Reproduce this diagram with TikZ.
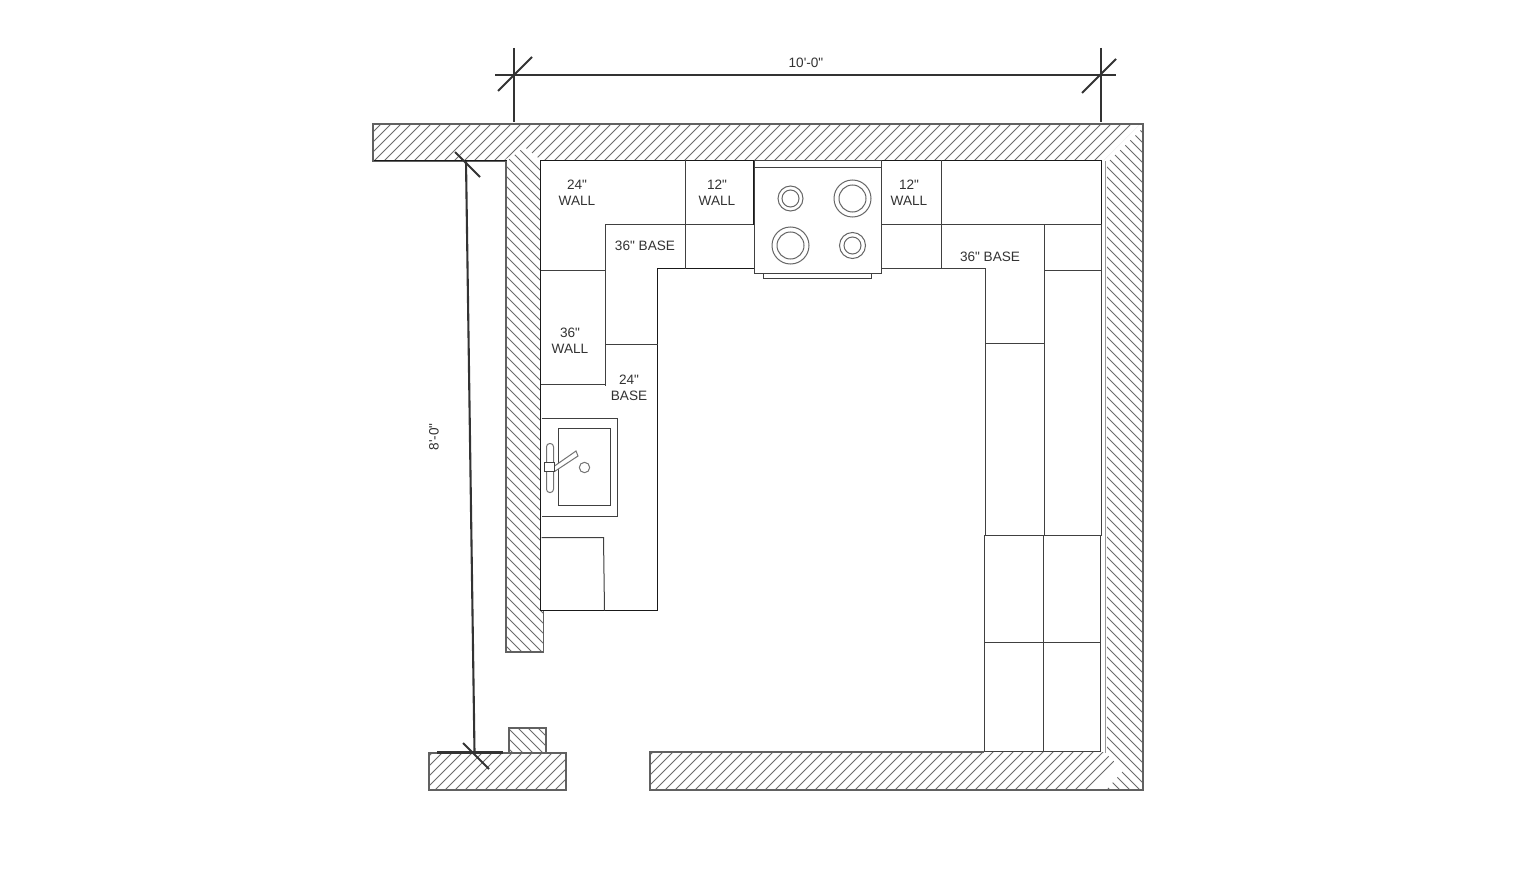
\documentclass[tikz,border=0pt]{standalone}
\usepackage{fontspec}
\newfontfamily\lblfont{Liberation Sans}
\tikzset{
  px/.style={x=0.5pt,y=-0.5pt},
  crisp/.style={xshift=0.25pt,yshift=-0.25pt},
  wall/.style={draw=black!62,line width=0.7pt},
  hatchline/.style={draw=black!58,line width=0.38pt},
  cab/.style={draw=black!75,line width=0.5pt},
  cabdark/.style={draw=black!90,line width=0.5pt},
  dim/.style={draw=black!80,line width=1.05pt},
  lbl/.style={font=\lblfont\fontsize{6.8pt}{8.1pt}\selectfont,text=black!80,align=center,inner sep=0pt},
}
% / hatch (x+y = const), \ hatch (x-y = const)
\newcommand{\hatchF}[2]{\begin{scope}\clip #1;
  \foreach \i in {0,...,200}{\pgfmathtruncatemacro\cc{#2+10*\i}\draw[hatchline] (\cc,0)--(0,\cc);}
  \end{scope}}
\newcommand{\hatchB}[2]{\begin{scope}\clip #1;
  \foreach \i in {0,...,200}{\pgfmathtruncatemacro\cc{#2+10*\i}\draw[hatchline] (\cc,0)--(\cc+1000,1000);}
  \end{scope}}
\begin{document}
\begin{tikzpicture}[px]
\useasboundingbox (0,0) rectangle (1516,872);
\fill[white] (0,0) rectangle (1516,872);
% hatching
\hatchF{(373,124)--(1140,124)--(1104,160)--(541,160)--(522,145)--(505,160)--(373,160)--cycle}{505}
\hatchB{(507,161)--(522,149)--(540,163)--(540,611)--(543,611)--(543,652)--(507,652)--cycle}{-400}
\hatchB{(1107,163)--(1143,128)--(1143,790)--(1106,790)--(1124,770)--(1107,752)--cycle}{-200}
\hatchF{(650,752)--(1104,752)--(1118,765)--(1094,790)--(650,790)--cycle}{1005}
\hatchF{(429,753)--(566,753)--(566,790)--(429,790)--cycle}{905}
\hatchB{(509,728)--(546,728)--(546,753)--(509,753)--cycle}{-300}
% wall outlines
\draw[wall] (506,161)--(373,161)--(373,124)--(1143,124)--(1143,790)--(650,790)--(650,752)--(984,752);
\draw[wall] (506,161)--(506,652)--(543.5,652)--(543.5,611);
\draw[wall] (429,753)--(566,753)--(566,790)--(429,790)--cycle;
\draw[wall] (509,753)--(509,728)--(546,728)--(546,753);
\begin{scope}[crisp]
\draw[cab,draw=black!40] (1105,161)--(1105,752);
% counters
\draw[cabdark] (540,160)--(540,610)--(657,610)--(657,268)--(754,268);
\draw[cabdark] (540,160)--(1101,160)--(1101,224);
\draw[cabdark] (373,160)--(506,160);
\draw[cab] (1101,224)--(1101,535);
\draw[cab] (605,385)--(605,224)--(754,224);
\draw[cab] (540,270)--(605,270);
\draw[cab] (540,384)--(605,384);
\draw[cab] (605,344)--(657,344);
\draw[cab] (685,160)--(685,268);
\draw[cabdark] (753,160)--(753,224);
% right run
\draw[cab] (881,224)--(1101,224);
\draw[cab] (881,268)--(985,268)--(985,535);
\draw[cab] (941,160)--(941,268);
\draw[cab] (1044,224)--(1044,535);
\draw[cab] (1044,270)--(1101,270);
\draw[cab] (985,343)--(1044,343);
\draw[cab] (984,535)--(1100,535)--(1100,751)--(984,751)--cycle;
\draw[cab] (1043,535)--(1043,751);
\draw[cab] (984,642)--(1100,642);
% stove
\draw[cab,fill=white] (754,160) rectangle (881,273);
\draw[cab] (754,167)--(881,167);
\draw[cab] (763,273)--(763,278)--(871,278)--(871,273);
\foreach \n/\cx/\cy/\ra/\rb in {a/790/198/12.5/8.5,b/852/198/18.5/13.5,c/790/245/18.5/13.5,d/852/245/13/8.5}{
  \draw[cab,draw=black!60] (\cx,\cy) circle[radius=\ra*0.5pt];
  \draw[cab,draw=black!60] (\cx,\cy) circle[radius=\rb*0.5pt];
}
% sink
\draw[cab] (541,418)--(617,418)--(617,516)--(541,516);
\draw[cab] (558,428) rectangle (610,505);
\draw[cab,draw=black!55,fill=white,rounded corners=1.6pt] (546,443) rectangle (553,492);
\draw[cab,draw=black!55,fill=white,line cap=round] (554,465.5)--(575.5,450.5)--(577.5,455.5)--(554,471);
\draw[cab,fill=white] (544,462) rectangle (554,471);
\draw[cab,draw=black!55] (584,467) circle[radius=2.6pt];
% box
\draw[cab] (541,537)--(603,537)--(604,610);
\end{scope}
% dimensions
\draw[dim] (495,75)--(1116,75);
\draw[dim] (514,48)--(514,122);
\draw[dim] (1101,48)--(1101,122);
\draw[dim] (498,91)--(532,57);
\draw[dim] (1082,93)--(1116,59);
\draw[dim] (466,161)--(474.5,752);
\draw[dim] (455,152)--(480,177);
\draw[dim] (463,743)--(489,769);
\draw[dim] (437,752.5)--(503,752.5);
% labels
\node[lbl] (t1) at (806,63) {10'-0"};
\node[lbl,rotate=90] (t2) at (434,437) {8'-0"};
\node[lbl] (t3) at (577,193) {24"\\WALL};
\node[lbl] (t4) at (717,193) {12"\\WALL};
\node[lbl] (t5) at (909,193) {12"\\WALL};
\node[lbl] (t6) at (645,246) {36" BASE};
\node[lbl] (t7) at (990,257) {36" BASE};
\node[lbl] (t8) at (570,341) {36"\\WALL};
\node[lbl] (t9) at (629,388) {24"\\BASE};
\end{tikzpicture}
\end{document}
